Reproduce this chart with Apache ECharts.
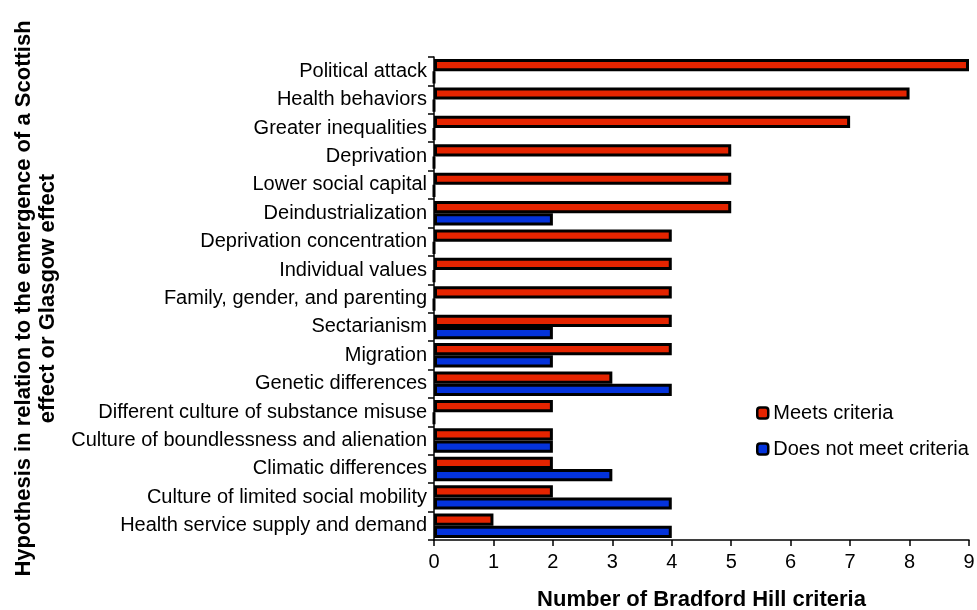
<!DOCTYPE html>
<html>
<head>
<meta charset="utf-8">
<script src="https://cdn.jsdelivr.net/npm/echarts@6/dist/echarts.min.js"></script>
<style>html,body{margin:0;padding:0;background:#fff;}#c{width:977px;height:610px;}</style>
</head>
<body>
<div id="c"></div>
<script>
const categories = [
  "Political attack",
  "Health behaviors",
  "Greater inequalities",
  "Deprivation",
  "Lower social capital",
  "Deindustrialization",
  "Deprivation concentration",
  "Individual values",
  "Family, gender, and parenting",
  "Sectarianism",
  "Migration",
  "Genetic differences",
  "Different culture of substance misuse",
  "Culture of boundlessness and alienation",
  "Climatic differences",
  "Culture of limited social mobility",
  "Health service supply and demand"
];
const meetsCriteria = [9, 8, 7, 5, 5, 5, 4, 4, 4, 4, 4, 3, 2, 2, 2, 2, 1];
const doesNotMeet   = [0, 0, 0, 0, 0, 2, 0, 0, 0, 2, 2, 4, 0, 2, 3, 4, 4];
const xTicks = [0, 1, 2, 3, 4, 5, 6, 7, 8, 9];

const font = "Liberation Sans, Arial, sans-serif";
const chart = echarts.init(document.getElementById('c'), null, {renderer: 'canvas'});
chart.setOption({
  animation: false,
  backgroundColor: '#fff',
  textStyle: {fontFamily: font},
  grid: {left: 434, right: 8, top: 57, bottom: 70, containLabel: false, outerBoundsMode: 'none'},
  legend: {
    orient: 'vertical',
    left: 751, top: 398,
    itemWidth: 11, itemHeight: 11, itemGap: 16,
    icon: 'roundRect',
    data: ['Meets criteria', 'Does not meet criteria'],
    textStyle: {fontSize: 20, color: '#000', fontFamily: font},
    itemStyle: {borderColor: '#000', borderWidth: 2.5}
  },
  xAxis: {
    type: 'value',
    min: xTicks[0], max: xTicks[xTicks.length - 1], interval: 1,
    name: 'Number of Bradford Hill criteria',
    nameLocation: 'middle', nameGap: 49,
    nameTextStyle: {fontSize: 22, fontWeight: 'bold', color: '#000', fontFamily: font},
    axisLine: {show: true, lineStyle: {color: '#000', width: 1.5}},
    axisTick: {show: true, length: 6, lineStyle: {color: '#000', width: 1.5}},
    axisLabel: {fontSize: 20, color: '#000', margin: 12, fontFamily: font},
    splitLine: {show: false}
  },
  yAxis: {
    type: 'category',
    data: categories,
    inverse: true,
    name: 'Hypothesis in relation to the emergence of a Scottish\neffect or Glasgow effect',
    nameLocation: 'middle', nameRotate: 90, nameGap: 373,
    nameTextStyle: {fontSize: 22, fontWeight: 'bold', color: '#000', lineHeight: 24, fontFamily: font},
    axisLine: {show: true, lineStyle: {color: '#000', width: 1.5}},
    axisTick: {show: true, length: 6, lineStyle: {color: '#000', width: 1.5}},
    axisLabel: {fontSize: 20, color: '#000', margin: 7, fontFamily: font}
  },
  series: [
    {
      name: 'Meets criteria', type: 'bar', data: meetsCriteria,
      barGap: '0%', barCategoryGap: '14%',
      itemStyle: {color: '#e52400', borderColor: '#000', borderWidth: 3}
    },
    {
      name: 'Does not meet criteria', type: 'bar', data: doesNotMeet,
      itemStyle: {color: '#0433dc', borderColor: '#000', borderWidth: 3}
    }
  ]
});
</script>
</body>
</html>
